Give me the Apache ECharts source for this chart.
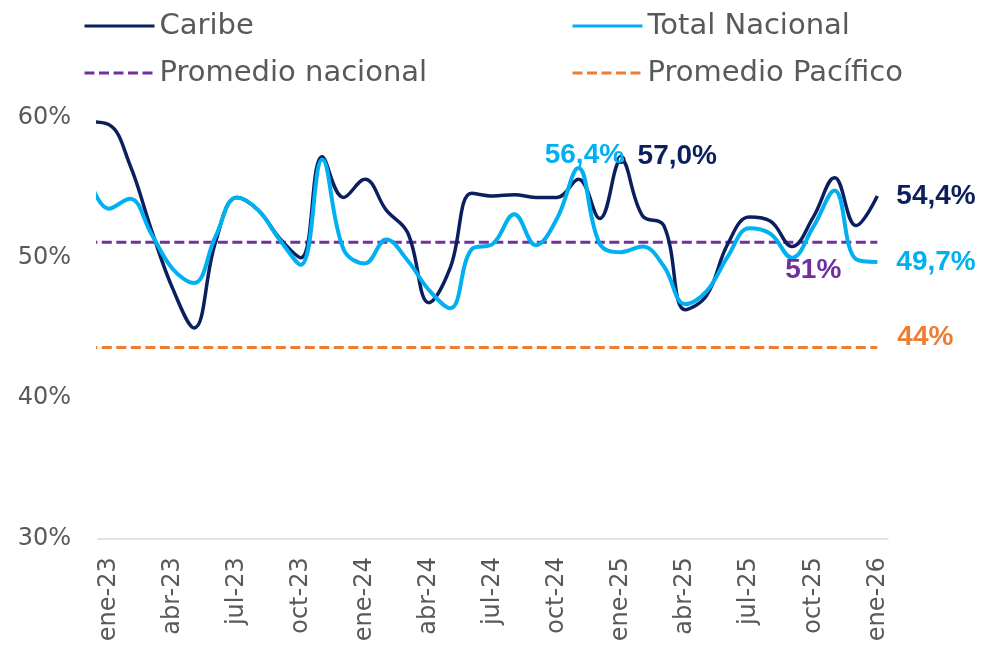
<!DOCTYPE html>
<html>
<head>
<meta charset="utf-8">
<script src="https://cdn.jsdelivr.net/npm/echarts@6/dist/echarts.min.js"></script>
<style>
html, body { margin: 0; padding: 0; background: #fff; }
#main { width: 983px; height: 650px; }
</style>
</head>
<body>
<div id="main"></div>
<script>
// meses: dic-22 queda fuera del eje, solo da el tramo inicial de las curvas
var meses = ['dic-22',
  'ene-23','feb-23','mar-23','abr-23','may-23','jun-23','jul-23','ago-23','sep-23','oct-23','nov-23','dic-23',
  'ene-24','feb-24','mar-24','abr-24','may-24','jun-24','jul-24','ago-24','sep-24','oct-24','nov-24','dic-24',
  'ene-25','feb-25','mar-25','abr-25','may-25','jun-25','jul-25','ago-25','sep-25','oct-25','nov-25','dic-25',
  'ene-26'];

var caribe = [59.7,
  59.5, 56.6, 52.0, 47.8, 45.0, 51.1, 54.3, 53.4, 51.4, 50.0, 57.2, 54.3,
  55.6, 53.4, 51.8, 46.8, 49.3, 54.6, 54.4, 54.5, 54.3, 54.3, 55.6, 52.8,
  57.0, 53.0, 52.3, 46.3, 47.3, 51.0, 52.9, 52.6, 50.8, 52.9, 55.7, 52.3,
  54.4];

var totalNacional = [56.0,
  53.5, 54.2, 51.7, 49.2, 48.2, 51.5, 54.3, 53.4, 51.3, 49.5, 57.0, 50.6,
  49.6, 51.3, 49.8, 47.7, 46.4, 50.6, 51.0, 53.1, 50.9, 52.8, 56.4, 51.0,
  50.4, 50.8, 49.4, 46.7, 47.6, 50.1, 52.1, 51.7, 50.0, 52.2, 54.8, 49.9,
  49.7];

var promNacional = 51.1;
var promPacifico = 43.6;

var yMin = 30, yMax = 60, yPaso = 10;

var AZUL = '#0b1f5e', CELESTE = '#00b0f0', MORADO = '#7030a0', NARANJA = '#ed7d31';
var GRIS = '#595959';

function pct1(p) { return p.value.toFixed(1).replace('.', ',') + '%'; }
function pct0(p) { return Math.round(p.value) + '%'; }

function etiqueta(color, extra) {
  var l = {
    show: true, color: color, fontFamily: 'Liberation Sans', fontWeight: 'bold',
    fontSize: 28, lineHeight: 28
  };
  for (var k in extra) l[k] = extra[k];
  return l;
}

// pone etiqueta solo en los puntos indicados
function conEtiquetas(valores, etiquetas) {
  return valores.map(function (v, i) {
    if (etiquetas[i]) {
      var d = { value: v, label: etiquetas[i].label };
      if (etiquetas[i].symbolSize) {
        d.symbolSize = etiquetas[i].symbolSize;
        d.itemStyle = etiquetas[i].itemStyle;
      }
      return d;
    }
    return v;
  });
}

var ult = meses.length - 1;

var etiqCaribe = {};
etiqCaribe[25] = {
  label: etiqueta(AZUL, { position: 'right', distance: 12, offset: [0, -3], formatter: pct1 }),
  symbolSize: 7, itemStyle: { color: '#fff', borderColor: AZUL, borderWidth: 2 }
};
etiqCaribe[ult] = { label: etiqueta(AZUL, { position: 'right', distance: 19, formatter: pct1 }) };

var etiqTotal = {};
etiqTotal[23] = { label: etiqueta(CELESTE, { position: 'top', distance: 0, offset: [6, 1], formatter: pct1 }) };
etiqTotal[ult] = { label: etiqueta(CELESTE, { position: 'right', distance: 19, formatter: pct1 }) };

var etiqNac = {};
etiqNac[34] = { label: etiqueta(MORADO, { position: 'bottom', distance: 14, formatter: pct0 }) };

var etiqPac = {};
etiqPac[ult] = { label: etiqueta(NARANJA, { position: 'right', distance: 20, offset: [0, -10], formatter: pct0 }) };

var lineaNac = meses.map(function () { return promNacional; });
var lineaPac = meses.map(function () { return promPacifico; });

var chart = echarts.init(document.getElementById('main'));

var leyendaTexto = { fontFamily: 'DejaVu Sans', fontSize: 29, color: GRIS, lineHeight: 30 };

chart.setOption({
  animation: false,
  legend: [
    {
      left: 78, top: 6, orient: 'vertical', itemWidth: 70, itemHeight: 14, itemGap: 17,
      itemStyle: { opacity: 0 }, lineStyle: { width: 3 },
      data: ['Caribe', 'Promedio nacional'], textStyle: leyendaTexto
    },
    {
      left: 566, top: 6, orient: 'vertical', itemWidth: 70, itemHeight: 14, itemGap: 17,
      itemStyle: { opacity: 0 }, lineStyle: { width: 3 },
      data: ['Total Nacional', 'Promedio Pacífico'], textStyle: leyendaTexto
    }
  ],
  grid: { left: 98, right: 95, top: 117.5, bottom: 111.7, containLabel: false },
  xAxis: {
    type: 'category',
    data: meses,
    min: 1,
    boundaryGap: true,
    axisLine: { lineStyle: { color: '#d9d9d9', width: 1.5 } },
    axisTick: { show: false },
    splitLine: { show: false },
    axisLabel: {
      interval: function (idx) { return idx >= 1 && (idx - 1) % 3 === 0; },
      rotate: 90, margin: 19, color: GRIS,
      fontFamily: 'DejaVu Sans', fontSize: 24
    }
  },
  yAxis: {
    type: 'value',
    min: yMin, max: yMax, interval: yPaso,
    axisLine: { show: false },
    axisTick: { show: false },
    splitLine: { show: false },
    axisLabel: {
      formatter: '{value}%', margin: 27, color: GRIS,
      fontFamily: 'DejaVu Sans', fontSize: 24
    }
  },
  series: [
    {
      name: 'Promedio nacional', type: 'line', data: conEtiquetas(lineaNac, etiqNac),
      symbol: 'circle', symbolSize: 0, showSymbol: true,
      itemStyle: { color: MORADO },
      lineStyle: { color: MORADO, width: 3, type: [10, 4.5] }
    },
    {
      name: 'Promedio Pacífico', type: 'line', data: conEtiquetas(lineaPac, etiqPac),
      symbol: 'circle', symbolSize: 0, showSymbol: true,
      itemStyle: { color: NARANJA },
      lineStyle: { color: NARANJA, width: 3, type: [10, 4.5] }
    },
    {
      name: 'Caribe', type: 'line', data: conEtiquetas(caribe, etiqCaribe),
      smooth: 0.4, symbol: 'circle', symbolSize: 0, showSymbol: true,
      itemStyle: { color: AZUL },
      lineStyle: { color: AZUL, width: 3.5 }
    },
    {
      name: 'Total Nacional', type: 'line', data: conEtiquetas(totalNacional, etiqTotal),
      smooth: 0.4, symbol: 'circle', symbolSize: 0, showSymbol: true,
      itemStyle: { color: CELESTE },
      lineStyle: { color: CELESTE, width: 4 }
    }
  ]
});
</script>
</body>
</html>
